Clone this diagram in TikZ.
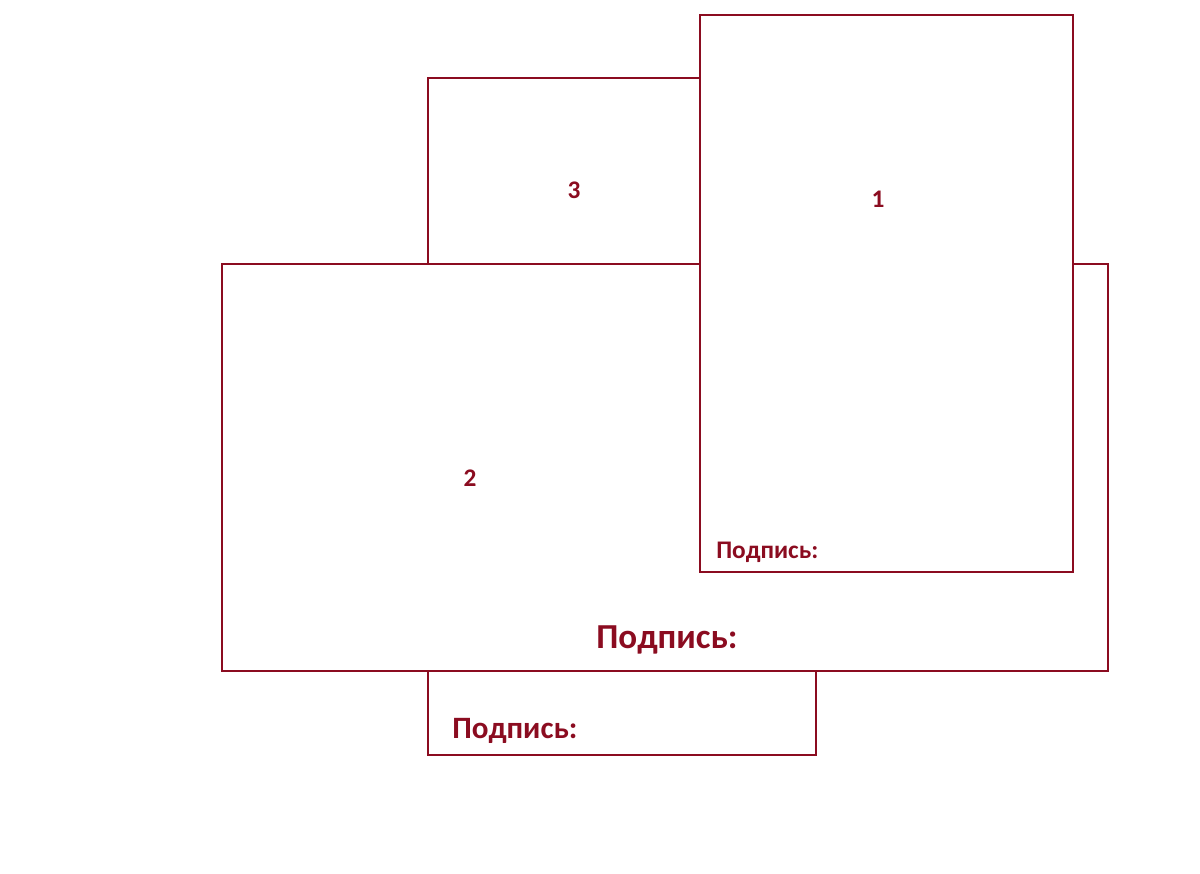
\documentclass[tikz,border=0pt]{standalone}
\usepackage{fontspec}
\setmainfont{Carlito}
\definecolor{wine}{RGB}{139,12,32}
\begin{document}
\begin{tikzpicture}[x=0.75pt,y=-0.75pt,
  frame/.style={draw=wine,line width=1pt,fill=white},
  lbl/.style={text=wine,font=\bfseries,inner sep=0pt},
  digit/.style={lbl,font=\bfseries\fontsize{19}{22}\selectfont}]
\useasboundingbox[fill=white] (0,0) rectangle (1200,874);
\draw[frame] (428,78) rectangle (816,755);
\draw[frame] (222,264) rectangle (1108,671);
\draw[frame] (700,15) rectangle (1073,572);
\node[digit] (n3) at (574,190) {3};
\node[digit] (n1) at (878,199) {1};
\node[digit] (n2) at (470,478) {2};
\node[lbl,font=\bfseries\fontsize{26.3}{30}\selectfont] (cap2) at (667,640) {Подпись:};
\node[lbl,font=\bfseries\fontsize{19}{22}\selectfont,anchor=west] (cap1) at (716,552) {Подпись:};
\node[lbl,font=\bfseries\fontsize{23.3}{27}\selectfont,anchor=west] (cap3) at (452,731) {Подпись:};
\end{tikzpicture}
\end{document}
